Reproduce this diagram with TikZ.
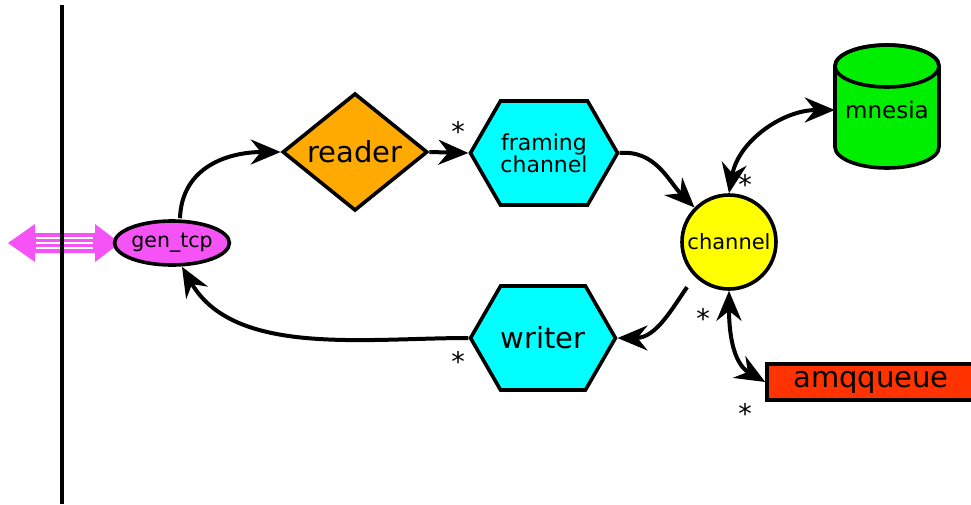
\documentclass[tikz,border=0pt]{standalone}
\usepackage{fontspec}
\setmainfont{DejaVu Sans}
\usetikzlibrary{shapes.geometric,shapes.symbols,arrows.meta}

\definecolor{pinkm}{HTML}{F553F5}
\definecolor{orangeR}{HTML}{FFAA00}
\definecolor{cyanH}{HTML}{00FFFF}
\definecolor{yellowC}{HTML}{FFFF00}
\definecolor{greenM}{HTML}{00EE00}
\definecolor{redQ}{HTML}{FF3300}

\tikzset{
  outline/.style={draw=black, line width=3.6pt, inner sep=0pt},
  conn/.style={line width=4pt, -{Stealth[length=30pt, width=25pt, inset=10pt]}},
  biconn/.style={line width=4pt,
    {Stealth[length=30pt, width=25pt, inset=10pt]}-{Stealth[length=30pt, width=25pt, inset=10pt]}},
  hexbox/.style={outline, fill=cyanH, shape=signal, signal to=east and west,
    signal pointer angle=120, minimum width=143pt, minimum height=104pt},
  star/.style={font=\fontsize{27}{27}\selectfont, inner sep=0pt}
}

\begin{document}
\begin{tikzpicture}[x=1pt, y=-1pt]
\useasboundingbox[fill=white] (0,0) rectangle (971,504);

% bidirectional socket arrow on the left
\fill[pinkm] (8,243) -- (35,224) -- (35,233) -- (95,233) -- (95,224) -- (120,243)
  -- (95,262) -- (95,253) -- (35,253) -- (35,262) -- cycle;
\foreach \yy in {238,243,248}
  \draw[white, line width=1.8pt] (36,\yy) -- (93,\yy);

% system boundary
\draw[line width=4.2pt] (62,5) -- (62,504);

% nodes
\node[outline, fill=pinkm, ellipse, minimum width=100pt, minimum height=44pt,
  font=\fontsize{20.5}{20}\selectfont] (gentcp) at (172,243) {gen\_tcp};
\node[outline, fill=orangeR, diamond, minimum width=145pt, minimum height=105pt,
  font=\fontsize{29}{29}\selectfont] (reader) at (355,152) {reader};
\node[hexbox, align=center, font=\fontsize{22}{21}\selectfont] (framing) at (544,153)
  {framing\\channel};
\node[hexbox, font=\fontsize{29}{29}\selectfont] (writer) at (543,338) {writer};
\node[outline, fill=yellowC, circle, minimum size=94pt,
  font=\fontsize{21}{21}\selectfont] (channel) at (729,242) {channel};
\node[outline, fill=redQ, rectangle, minimum width=208pt, minimum height=36pt,
  font=\fontsize{29}{29}\selectfont] (amq) at (871,382) {amqqueue};

% database cylinder
\path[fill=greenM, draw=black, line width=3.6pt]
  (835,66) -- (835,147) arc[start angle=180, end angle=360, x radius=52pt, y radius=21pt]
  -- (939,66) arc[start angle=0, end angle=180, x radius=52pt, y radius=21pt] -- cycle;
\draw[line width=3.6pt] (887,66) ellipse[x radius=52pt, y radius=21pt];
\node[minimum width=104pt, minimum height=80pt, inner sep=0pt,
  font=\fontsize{23}{23}\selectfont] (mnesia) at (887,110) {mnesia};

% connectors
\draw[conn] (gentcp.north) ++(8,-1) coordinate (g1)
  (g1) to[out=88, in=180, looseness=1.1] (reader.west);
\draw[conn] (reader.east) -- (framing.west);
\draw[conn] (framing.east) to[out=5, in=135] (channel.north west);
\draw[conn, shorten <=13pt] (channel.225) to[out=-125, in=0] (writer.east);
\draw[conn] (writer.west) to[out=180, in=-60, looseness=0.9] ([xshift=10pt]gentcp.south);
\draw[biconn] (channel.north) to[out=80, in=180] (mnesia.west);
\draw[biconn] (channel.south) to[out=-90, in=150] (amq.west);

% multiplicity marks
\node[star] (m1) at (458,131) {*};
\node[star] (m2) at (703,318) {*};
\node[star] (m3) at (458,361) {*};
\node[star] (m4) at (745,184) {*};
\node[star] (m5) at (745,413) {*};
\end{tikzpicture}
\end{document}
